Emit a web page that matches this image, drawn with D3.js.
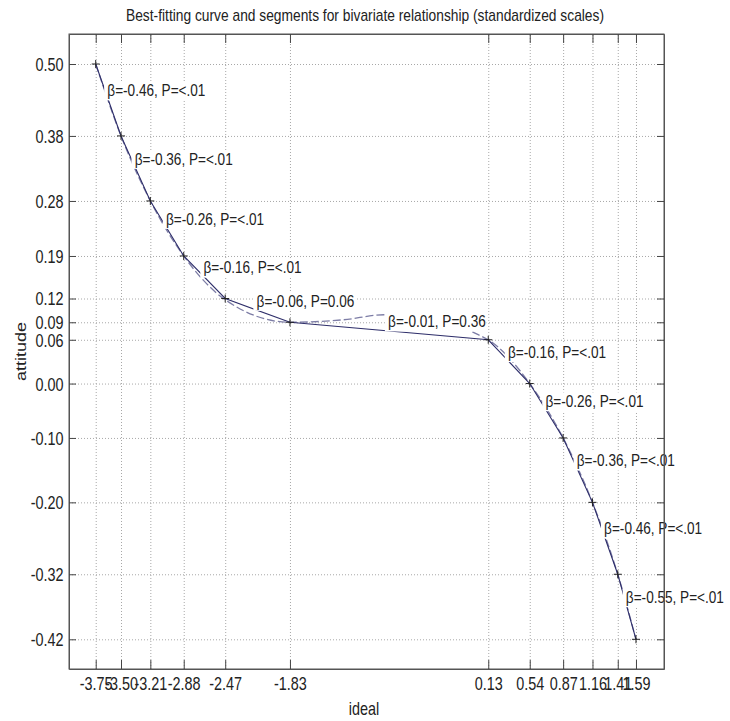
<!DOCTYPE html>
<html>
<head>
<meta charset="utf-8">
<script src="https://cdn.jsdelivr.net/npm/d3@7"></script>
<style>
  body { margin: 0; background: #fff; }
  text { font-family: "Liberation Sans", Arial, sans-serif; fill: #222; }
</style>
</head>
<body>
<script>
// knots of the segments (ideal, attitude)
const ideal = [-3.75, -3.50, -3.21, -2.88, -2.47, -1.83, 0.13, 0.54, 0.87, 1.16, 1.41, 1.59];
const attitude = [0.500, 0.385, 0.281, 0.193, 0.125, 0.087, 0.059, -0.011, -0.098, -0.201, -0.316, -0.420];

// best-fitting curve (it bulges up in the flat middle part)
const curveIdeal = [-3.75, -3.50, -3.21, -2.88, -2.47, -1.83, -1.30, -0.90, -0.40, 0.02, 0.13, 0.54, 0.87, 1.16, 1.41, 1.59];
const curveAttitude = [0.500, 0.385, 0.281, 0.193, 0.123, 0.087, 0.091, 0.099, 0.095, 0.068, 0.059, -0.011, -0.098, -0.201, -0.316, -0.420];

const xTickLabels = ["-3.75", "-3.50", "-3.21", "-2.88", "-2.47", "-1.83", "0.13", "0.54", "0.87", "1.16", "1.41", "1.59"];
const yTickLabels = ["0.50", "0.38", "0.28", "0.19", "0.12", "0.09", "0.06", "0.00", "-0.10", "-0.20", "-0.32", "-0.42"];

// segment slopes and p values
const betas = [-0.46, -0.36, -0.26, -0.16, -0.06, -0.01, -0.16, -0.26, -0.36, -0.46, -0.55];
const pvals = ["<.01", "<.01", "<.01", "<.01", "0.06", "0.36", "<.01", "<.01", "<.01", "<.01", "<.01"];

function main(){
    const canvasWidth = 730;
    const canvasHeight = 721;
    const left = 69, right = 664, top = 34, bottom = 669;
    const squeeze = 0.8; // text in the picture is narrow

    const svg = d3.select("body").append("svg")
        .attr("width", canvasWidth)
        .attr("height", canvasHeight);

    const xScale = d3.scaleLinear().domain([-4.014, 1.867]).range([left, right]);
    const yScale = d3.scaleLinear().domain([-0.4675, 0.548]).range([bottom, top]);

    const points = ideal.map((x, i) => ({x: x, y: attitude[i]}));
    const curvePoints = curveIdeal.map((x, i) => ({x: x, y: curveAttitude[i]}));

    // grid
    const grid = svg.append("g").attr("class", "grid");
    grid.append("g")
        .attr("transform", "translate(0," + bottom + ")")
        .call(d3.axisBottom(xScale).tickValues(ideal).tickSize(-(bottom - top)).tickFormat(""));
    grid.append("g")
        .attr("transform", "translate(" + left + ",0)")
        .call(d3.axisLeft(yScale).tickValues(attitude).tickSize(-(right - left)).tickFormat(""));
    grid.selectAll(".domain").remove();
    grid.selectAll("line")
        .attr("stroke", "#a8a8a8")
        .attr("stroke-width", 1)
        .attr("stroke-dasharray", "1,2");

    // best-fitting curve
    svg.append("path")
        .datum(curvePoints)
        .attr("fill", "none")
        .attr("stroke", "#7d7da6")
        .attr("stroke-width", 1.3)
        .attr("stroke-dasharray", "8,3")
        .attr("d", d3.line().x(d => xScale(d.x)).y(d => yScale(d.y)).curve(d3.curveMonotoneX));

    // straight segments between knots
    svg.append("path")
        .datum(points)
        .attr("fill", "none")
        .attr("stroke", "#2e2e6a")
        .attr("stroke-width", 1.1)
        .attr("d", d3.line().x(d => xScale(d.x)).y(d => yScale(d.y)));

    // knot markers
    svg.selectAll(".knot")
        .data(points)
        .enter()
        .append("path")
        .attr("class", "knot")
        .attr("transform", d => "translate(" + xScale(d.x) + "," + yScale(d.y) + ")")
        .attr("d", "M-4,0H4M0,-4V4")
        .attr("stroke", "#222")
        .attr("stroke-width", 1);

    // segment labels
    const segs = betas.map((b, i) => ({
        mx: (xScale(ideal[i]) + xScale(ideal[i + 1])) / 2,
        my: (yScale(attitude[i]) + yScale(attitude[i + 1])) / 2,
        label: "\u03b2=" + b.toFixed(2) + ", P=" + pvals[i]
    }));

    const lab = svg.selectAll(".seglabel")
        .data(segs)
        .enter()
        .append("g")
        .attr("class", "seglabel")
        .attr("transform", d => "translate(" + (d.mx - 1) + "," + (d.my - 10) + ") scale(" + squeeze + ",1)");
    lab.append("rect").attr("fill", "#fff");
    lab.append("text")
        .attr("dy", "0.36em")
        .attr("font-size", "17px")
        .text(d => d.label);
    lab.each(function(){
        const bb = d3.select(this).select("text").node().getBBox();
        d3.select(this).select("rect")
            .attr("x", bb.x - 4)
            .attr("y", bb.y + 1)
            .attr("width", bb.width + 5)
            .attr("height", bb.height);
    });

    // axes frame with inward ticks
    svg.append("rect")
        .attr("x", left).attr("y", top)
        .attr("width", right - left).attr("height", bottom - top)
        .attr("fill", "none")
        .attr("stroke", "#555")
        .attr("stroke-width", 1);

    const xAxis = svg.append("g")
        .attr("transform", "translate(0," + bottom + ")")
        .call(d3.axisBottom(xScale).tickValues(ideal).tickSizeInner(-9).tickSizeOuter(0).tickPadding(8.5)
            .tickFormat((d, i) => xTickLabels[i]));
    xAxis.selectAll("text")
        .attr("transform", "scale(" + squeeze + ",1)")
        .attr("font-size", "18px");

    svg.append("g")
        .attr("transform", "translate(0," + top + ")")
        .call(d3.axisTop(xScale).tickValues(ideal).tickSizeInner(-9).tickSizeOuter(0).tickFormat(""));

    const yAxis = svg.append("g")
        .attr("transform", "translate(" + left + ",0)")
        .call(d3.axisLeft(yScale).tickValues(attitude).tickSizeInner(-7).tickSizeOuter(0).tickPadding(5.5)
            .tickFormat((d, i) => yTickLabels[i]));
    yAxis.selectAll("text")
        .attr("x", -5.5 / squeeze)
        .attr("dy", "0.36em")
        .attr("transform", "scale(" + squeeze + ",1)")
        .attr("font-size", "18px");

    svg.append("g")
        .attr("transform", "translate(" + right + ",0)")
        .call(d3.axisRight(yScale).tickValues(attitude).tickSizeInner(-7).tickSizeOuter(0).tickFormat(""));

    svg.selectAll(".domain").attr("stroke", "#555");
    svg.selectAll(".tick line").filter(function(){ return !this.closest(".grid"); })
        .attr("stroke", "#444");
    svg.selectAll(".tick text").attr("fill", "#222").attr("font-family", "\"Liberation Sans\", Arial, sans-serif");

    // title and axis titles
    svg.append("text")
        .attr("x", 126)
        .attr("y", 20.7)
        .attr("font-size", "17px")
        .attr("textLength", 478)
        .attr("lengthAdjust", "spacingAndGlyphs")
        .text("Best-fitting curve and segments for bivariate relationship (standardized scales)");

    svg.append("text")
        .attr("transform", "translate(364,715) scale(" + squeeze + ",1)")
        .attr("text-anchor", "middle")
        .attr("font-size", "18px")
        .text("ideal");

    svg.append("text")
        .attr("transform", "translate(21,351.5) scale(" + squeeze + ",1) rotate(-90)")
        .attr("text-anchor", "middle")
        .attr("dy", "0.35em")
        .attr("font-size", "18px")
        .text("attitude");
}
main();
</script>
</body>
</html>
